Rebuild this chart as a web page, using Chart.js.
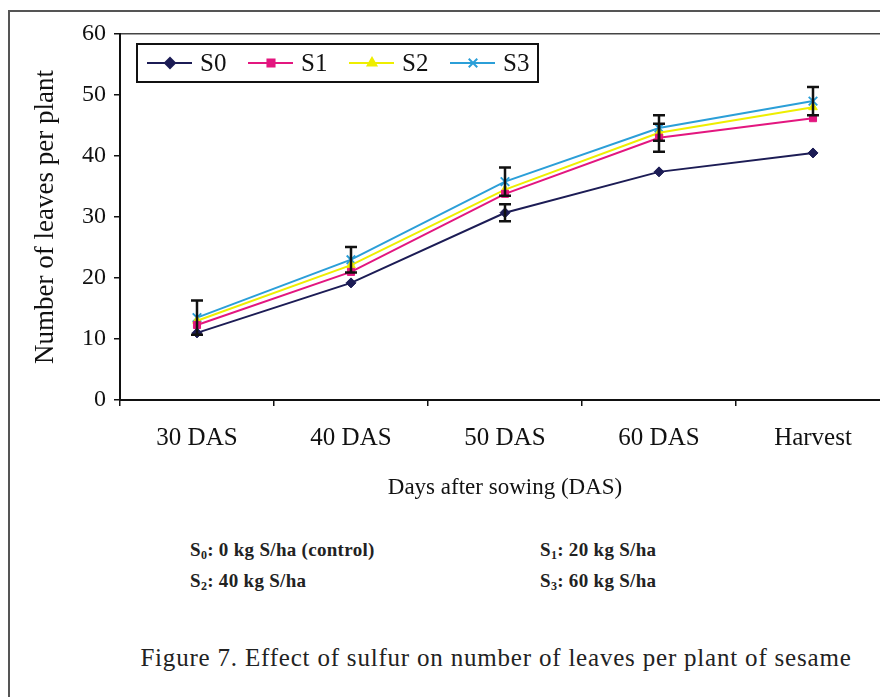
<!DOCTYPE html>
<html>
<head>
<meta charset="utf-8">
<script src="https://cdn.jsdelivr.net/npm/chart.js@4/dist/chart.umd.min.js"></script>
<style>
  html, body { margin: 0; padding: 0; background: #fff; overflow: hidden; }
  body { width: 880px; height: 697px; position: relative; font-family: "Liberation Serif", "DejaVu Serif", serif; }
  #frame { position: absolute; left: 8px; top: 10px; width: 900px; height: 700px; border: 2px solid #555; box-sizing: border-box; }
  #wrap { position: absolute; left: 0; top: 0; width: 900px; height: 520px; }
  .note { position: absolute; font-weight: bold; font-size: 19px; letter-spacing: 0.3px; color: #222; white-space: nowrap; line-height: 1; }
  .note sub { font-size: 12px; vertical-align: -3px; }
  #caption { position: absolute; left: 0; width: 992px; top: 645px; text-align: center; font-size: 25px; letter-spacing: 0.8px; color: #222; white-space: nowrap; line-height: 1; }
</style>
</head>
<body>
<div id="frame"></div>
<div id="wrap"><canvas id="leafChart"></canvas></div>
<div class="note" style="left:190px; top:540px;">S<sub>0</sub>: 0 kg S/ha (control)</div>
<div class="note" style="left:540px; top:540px;">S<sub>1</sub>: 20 kg S/ha</div>
<div class="note" style="left:190px; top:571px;">S<sub>2</sub>: 40 kg S/ha</div>
<div class="note" style="left:540px; top:571px;">S<sub>3</sub>: 60 kg S/ha</div>
<div id="caption">Figure 7. Effect of sulfur on number of leaves per plant of sesame</div>

<script>
// growth stages
const stages = ['30 DAS', '40 DAS', '50 DAS', '60 DAS', 'Harvest'];

// mean leaves per plant for each sulfur dose
const s0 = [11.0, 19.2, 30.7, 37.4, 40.5];
const s1 = [12.3, 21.0, 33.8, 43.0, 46.2];
const s2 = [13.0, 22.1, 34.5, 43.8, 48.0];
const s3 = [13.5, 23.0, 35.8, 44.6, 49.0];

// standard errors (0 = no bar shown)
const s0Err = [0, 0, 1.4, 0, 0];
const s1Err = [0, 0, 0, 2.3, 0];
const s2Err = [0, 0, 0, 0, 0];
const s3Err = [2.8, 2.1, 2.3, 2.1, 2.3];

const yTicks = [0, 10, 20, 30, 40, 50, 60];

const serif = '"Liberation Serif", "Times New Roman", serif';

function series(label, data, err, color, point, radius) {
    return {
        label: label,
        data: data,
        errors: err,
        borderColor: color,
        backgroundColor: color,
        borderWidth: 2,
        pointStyle: point,
        pointRadius: radius,
        pointHoverRadius: radius,
        pointBorderWidth: point === 'crossRot' ? 2 : 1,
        tension: 0
    };
}

// vertical error bars with caps
const errorBars = {
    id: 'errorBars',
    afterDatasetsDraw(chart) {
        const ctx = chart.ctx;
        const x = chart.scales.x, y = chart.scales.y;
        ctx.save();
        ctx.strokeStyle = '#111';
        ctx.lineWidth = 2.5;
        chart.data.datasets.forEach(ds => {
            ds.data.forEach((v, i) => {
                const e = ds.errors[i];
                if (!e) return;
                const px = x.getPixelForValue(i);
                const top = y.getPixelForValue(v + e);
                const bot = y.getPixelForValue(v - e);
                ctx.beginPath();
                ctx.moveTo(px, top); ctx.lineTo(px, bot);
                ctx.moveTo(px - 6, top); ctx.lineTo(px + 6, top);
                ctx.moveTo(px - 6, bot); ctx.lineTo(px + 6, bot);
                ctx.stroke();
            });
        });
        ctx.restore();
    }
};

// boxed legend inside the plot area
const boxLegend = {
    id: 'boxLegend',
    afterDraw(chart) {
        const ctx = chart.ctx;
        const bx = 137, by = 44, bw = 401, bh = 38;
        ctx.save();
        ctx.fillStyle = '#fff';
        ctx.fillRect(bx, by, bw, bh);
        ctx.strokeStyle = '#111';
        ctx.lineWidth = 2;
        ctx.strokeRect(bx, by, bw, bh);
        const cy = by + bh / 2;
        ctx.font = '25px ' + serif;
        ctx.textBaseline = 'middle';
        chart.data.datasets.forEach((ds, i) => {
            const x0 = 147 + i * 101;
            ctx.strokeStyle = ds.borderColor;
            ctx.lineWidth = 2;
            ctx.beginPath();
            ctx.moveTo(x0, cy); ctx.lineTo(x0 + 45, cy);
            ctx.stroke();
            ctx.fillStyle = ds.backgroundColor;
            Chart.helpers.drawPoint(ctx, {
                pointStyle: ds.pointStyle, radius: ds.pointRadius, rotation: 0, borderWidth: ds.pointBorderWidth
            }, x0 + 23, cy);
            ctx.fillStyle = '#111';
            ctx.fillText(ds.label, x0 + 53, cy + 1);
        });
        ctx.restore();
    }
};

new Chart(document.getElementById('leafChart'), {
    type: 'line',
    data: {
        labels: stages,
        datasets: [
            series('S0', s0, s0Err, '#1c1c55', 'rectRot', 5),
            series('S1', s1, s1Err, '#e3167f', 'rect', 5),
            series('S2', s2, s2Err, '#eeee00', 'triangle', 5),
            series('S3', s3, s3Err, '#2b9fd8', 'crossRot', 6)
        ]
    },
    options: {
        responsive: true,
        maintainAspectRatio: false,
        animation: false,
        layout: { padding: { left: 30, top: 34, right: 10, bottom: 0 } },
        plugins: { legend: { display: false }, tooltip: { enabled: false } },
        scales: {
            x: {
                offset: true,
                grid: { offset: true, drawOnChartArea: false, tickLength: 6, color: '#111', lineWidth: 1.5 },
                border: { color: '#111', width: 2 },
                ticks: { color: '#111', padding: 17, font: { family: serif, size: 25 } },
                title: { display: true, text: 'Days after sowing (DAS)', color: '#111', font: { family: serif, size: 23 }, padding: { top: 0, bottom: 18 } },
                afterFit(scale) { scale.height = 120; }
            },
            y: {
                min: 0,
                max: 60,
                afterBuildTicks(scale) { scale.ticks = yTicks.map(v => ({ value: v })); },
                grid: {
                    color: ctx => ctx.tick && ctx.tick.value === 60 ? '#444' : 'rgba(0,0,0,0)',
                    tickColor: '#111',
                    tickLength: 6,
                    lineWidth: 1.5
                },
                border: { color: '#111', width: 2 },
                ticks: { color: '#111', padding: 8, font: { family: serif, size: 24 } },
                title: { display: true, text: 'Number of leaves per plant', color: '#111', font: { family: serif, size: 27 }, padding: { top: 0, bottom: 0 } },
                afterFit(scale) { scale.width = 90; }
            }
        }
    },
    plugins: [errorBars, boxLegend]
});
</script>
</body>
</html>
